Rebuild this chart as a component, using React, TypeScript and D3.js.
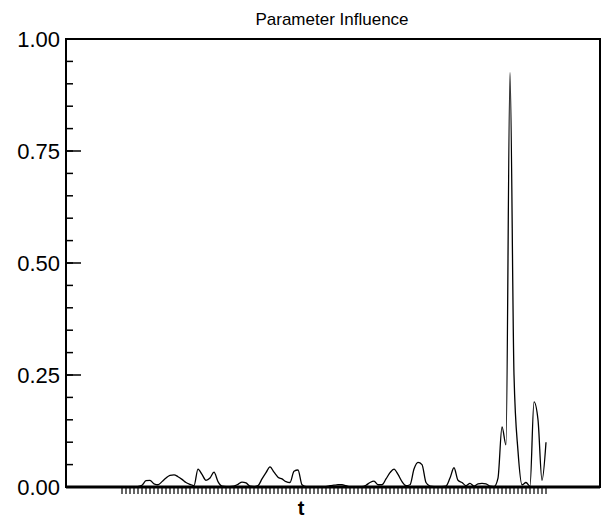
import React, { useRef, useEffect } from "react";
import * as d3 from "d3";

// influence of the parameter at each time step t = 0..106
const influence = [
  0, 0, 0, 0, 0.001, 0.004, 0.014, 0.015, 0.007, 0.005,
  0.012, 0.02, 0.026, 0.027, 0.023, 0.017, 0.01, 0.006, 0.003, 0.04,
  0.028, 0.015, 0.02, 0.033, 0.012, 0.002, 0.001, 0.001, 0.002, 0.006,
  0.011, 0.009, 0.002, 0.001, 0.003, 0.018, 0.032, 0.045, 0.033, 0.022,
  0.018, 0.012, 0.01, 0.035, 0.038, 0.005, 0.001, 0.001, 0.001, 0.001,
  0.001, 0.001, 0.003, 0.004, 0.005, 0.005, 0.003, 0.001, 0.001, 0.001,
  0.001, 0.004, 0.01, 0.013, 0.005, 0.005, 0.018, 0.032, 0.04, 0.028,
  0.012, 0.003, 0.005, 0.04, 0.055, 0.05, 0.01, 0.002, 0.001, 0.001,
  0.001, 0.002, 0.02, 0.043, 0.015, 0.01, 0.003, 0.008, 0.002, 0.007,
  0.008, 0.007, 0.002, 0.001, 0.02, 0.134, 0.094, 0.925, 0.25, 0.08,
  0.005, 0.01, 0.002, 0.19, 0.15, 0.015, 0.1,
];
const steps = influence.map((_, i) => i);
const majorTicks = [0, 0.25, 0.5, 0.75, 1];
const minorTicks = d3.range(0, 1.0001, 0.05);

const drawChart = (svgRef) => {
  const svg = d3.select(svgRef.current);
  svg.selectAll("*").remove();

  const left = 66, right = 600, top = 39, bottom = 487;
  const x = d3.scaleLinear().domain([-14, 119.5]).range([left, right]);
  const y = d3.scaleLinear().domain([0, 1]).range([bottom, top]);
  const font = "'Liberation Sans', Arial, sans-serif";

  // frame
  svg.append("rect")
    .attr("x", left).attr("y", top)
    .attr("width", right - left).attr("height", bottom - top)
    .attr("fill", "none").attr("stroke", "#000").attr("stroke-width", 2);
  svg.append("line")
    .attr("x1", left).attr("x2", right).attr("y1", bottom).attr("y2", bottom)
    .attr("stroke", "#000").attr("stroke-width", 3);

  // y ticks
  svg.append("g").selectAll("line").data(minorTicks).enter().append("line")
    .attr("x1", left).attr("x2", left + 7)
    .attr("y1", (d) => y(d)).attr("y2", (d) => y(d))
    .attr("stroke", "#000").attr("stroke-width", 1.5);
  svg.append("g").selectAll("line").data(majorTicks).enter().append("line")
    .attr("x1", left).attr("x2", left + 15)
    .attr("y1", (d) => y(d)).attr("y2", (d) => y(d))
    .attr("stroke", "#000").attr("stroke-width", 1.5);
  svg.append("g").selectAll("text").data(majorTicks).enter().append("text")
    .attr("x", 60).attr("y", (d) => y(d) + 8)
    .attr("text-anchor", "end")
    .attr("font-family", font).attr("font-size", 22)
    .text((d) => d3.format(".2f")(d));

  // x ticks, one per time step
  svg.append("g").selectAll("line").data(steps).enter().append("line")
    .attr("x1", (d) => x(d)).attr("x2", (d) => x(d))
    .attr("y1", bottom + 1).attr("y2", bottom + 7)
    .attr("stroke", "#000").attr("stroke-width", 1.2);

  // the series
  const line = d3.line()
    .x((d, i) => x(i))
    .y((d) => y(d))
    .curve(d3.curveMonotoneX);
  svg.append("path")
    .datum(influence)
    .attr("d", line)
    .attr("fill", "none")
    .attr("stroke", "#000")
    .attr("stroke-width", 1.3);

  // titles
  svg.append("text")
    .attr("x", 332).attr("y", 25)
    .attr("text-anchor", "middle")
    .attr("font-family", font).attr("font-size", 17)
    .text("Parameter Influence");
  svg.append("text")
    .attr("x", 301).attr("y", 515)
    .attr("text-anchor", "middle")
    .attr("font-family", font).attr("font-size", 20).attr("font-weight", "bold")
    .text("t");
};

const App = () => {
  const svgRef = useRef(null);
  useEffect(() => {
    drawChart(svgRef);
  }, []);
  return (
    <svg ref={svgRef} width={603} height={520}
      style={{ position: "absolute", left: 0, top: 0, background: "#fff" }} />
  );
};

export default App;
